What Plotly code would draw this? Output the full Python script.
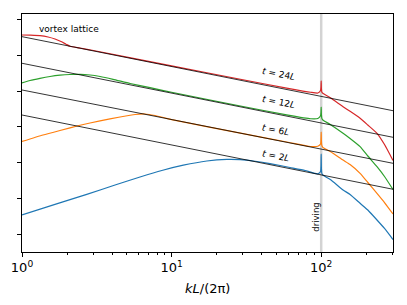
import numpy as np
import plotly.graph_objects as go

# ---------------- data ----------------
k_t2 = [1, 1.662, 2.71, 4.188, 6.15, 8.6, 11.98, 17.2, 23.4, 28.7, 36.2, 45.5, 61.9, 78.1, 95,
        99, 99.7, 100, 100.3, 101, 102.5, 115, 140, 156, 182, 205, 236, 265, 302]
E_t2 = [3.41, 6.75, 12.9, 23.6, 39.5, 60.1, 84.5, 111, 123, 121, 109, 93.8, 72.9, 60.1, 48.5,
        56.2, 79.4, 174, 72.4, 50.1, 45.0, 33.6, 17.1, 12.8, 7.24, 4.70, 2.47, 1.43, 0.70]

k_t6 = [1, 1.382, 1.795, 2.443, 3.325, 4.524, 5.705, 6.643, 7.757, 9.06, 10, 30, 60, 85, 95,
        99, 99.7, 100, 100.3, 101, 102.5, 115, 140, 156, 182, 205, 236, 265, 302]
E_t6 = [390, 593, 793, 1109, 1482, 1893, 2225, 2298, 2085, 1775, 1600, 646, 372, 282, 288,
        331, 447, 719, 417, 302, 268, 205, 118, 88.5, 50.1, 27.7, 13.8, 7.62, 3.63]

k_t12 = [1, 1.131, 1.319, 1.539, 1.795, 2.094, 2.443, 2.85, 3.325, 4.06, 5.28, 7.18, 10, 30, 60, 85, 95,
         99, 99.7, 100, 100.3, 101, 102.5, 115, 140, 156, 182, 205, 236, 265, 302]
E_t12 = [1.698e4, 1.995e4, 2.297e4, 2.581e4, 2.807e4, 2.938e4, 2.973e4, 2.843e4, 2.581e4, 2.153e4,
         1.643e4, 1.254e4, 9.33e3, 3.72e3, 2.14e3, 1.69e3, 1.72e3,
         2.04e3, 2.51e3, 3.61e3, 2.29e3, 1.74e3, 1.56e3, 1.167e3, 662, 473, 279, 153, 76.7, 40.8, 17.6]

k_t24 = [1, 1.131, 1.319, 1.493, 1.662, 1.823, 1.969, 2.094, 2.443, 3, 10, 30, 60, 85, 95,
         99, 99.7, 100, 100.3, 101, 102.5, 115, 140, 156, 182, 205, 236, 265, 302]
E_t24 = [3.75e5, 3.70e5, 3.59e5, 3.30e5, 2.90e5, 2.47e5, 2.07e5, 1.81e5, 1.62e5, 1.38e5, 5.13e4,
         2.09e4, 1.20e4, 9.33e3, 8.91e3,
         1.05e4, 1.32e4, 1.95e4, 1.20e4, 9.33e3, 8.73e3, 6.53e3, 3.68e3, 2.74e3, 1.742e3, 1.13e3,
         662, 321, 115]

# straight power-law reference lines (endpoints)
ref_k = [1, 302]
ref_E = [[3.365e5, 2.84e3],
         [6.05e4, 511],
         [1.081e4, 95.5],
         [2153, 17.9]]

series_names = ["t = 2L", "t = 6L", "t = 12L", "t = 24L"]
label_text = ["<i>t</i> = 2<i>L</i>", "<i>t</i> = 6<i>L</i>",
              "<i>t</i> = 12<i>L</i>", "<i>t</i> = 24<i>L</i>"]
label_k = [49.7, 49.7, 51.8, 51.8]
label_E = [151, 845, 5080, 2.99e4]
colors = ["#1f77b4", "#ff7f0e", "#2ca02c", "#d62728"]

driving_k = 100
x_ticks = [1, 10, 100]
x_ticktext = ["10<sup>0</sup>", "10<sup>1</sup>", "10<sup>2</sup>"]
x_minor = [2, 3, 4, 5, 6, 7, 8, 9, 20, 30, 40, 50, 60, 70, 80, 90, 200, 300]
y_ticks = [1, 10, 100, 1e3, 1e4, 1e5, 1e6]
x_range = [0, np.log10(302)]

# ---------------- figure ----------------
fig = go.Figure()

curves = [(k_t2, E_t2), (k_t6, E_t6), (k_t12, E_t12), (k_t24, E_t24)]
for (kk, ee), c, n in zip(curves, colors, series_names):
    fig.add_trace(go.Scatter(x=kk, y=ee, mode="lines", name=n,
                             line=dict(color=c, width=1.2, shape="spline", smoothing=0.5),
                             showlegend=False))

for re in ref_E:
    fig.add_trace(go.Scatter(x=ref_k, y=re, mode="lines",
                             line=dict(color="black", width=0.8), showlegend=False))

# helper (invisible) trace so the minor-tick overlay axis exists
fig.add_trace(go.Scatter(x=ref_k, y=[1e3, 1e3], xaxis="x2", mode="lines",
                         opacity=0, showlegend=False, hoverinfo="skip"))

fig.add_shape(type="line", xref="x", yref="paper", x0=driving_k, x1=driving_k,
              y0=0, y1=1, line=dict(color="#d3d3d3", width=2.5), layer="below")

font_family = "DejaVu Sans"
annots = []
for t, kx, ey in zip(label_text, label_k, label_E):
    annots.append(dict(x=np.log10(kx), y=np.log10(ey), xref="x", yref="y", text=t,
                       showarrow=False, textangle=11,
                       font=dict(size=9, color="black", family=font_family)))
annots.append(dict(x=np.log10(2.06), y=np.log10(5.7e5), xref="x", yref="y",
                   text="vortex lattice", showarrow=False,
                   font=dict(size=9, color="black", family=font_family)))
annots.append(dict(x=np.log10(driving_k), y=0.147, xref="x", yref="paper",
                   yanchor="middle", xanchor="center",
                   text="driving", showarrow=False, textangle=-90, xshift=-5.5,
                   font=dict(size=8.5, color="black", family=font_family)))
annots.append(dict(x=0.5, y=-0.155, xref="paper", yref="paper", yanchor="middle",
                   text="<i>kL</i>/(2π)", showarrow=False,
                   font=dict(size=13, color="black", family=font_family)))

fig.update_layout(
    width=407, height=305,
    margin=dict(l=22, r=14, t=14, b=53),
    paper_bgcolor="white", plot_bgcolor="white",
    annotations=annots,
    font=dict(family=font_family, color="black"),
    xaxis2=dict(type="log", range=x_range, overlaying="x", anchor="y", side="bottom",
                tickvals=x_minor, showticklabels=False, ticks="outside", ticklen=2,
                tickwidth=0.6, tickcolor="black", showline=False, showgrid=False,
                zeroline=False),
)
fig.layout.xaxis.update(type="log", range=x_range,
                        tickvals=x_ticks, ticktext=x_ticktext,
                        ticks="outside", ticklen=3.5, tickwidth=0.8, tickcolor="black",
                        showline=True, linecolor="black", linewidth=1, mirror=True,
                        showgrid=False, zeroline=False,
                        tickfont=dict(size=13, family=font_family, color="black"))
fig.update_yaxes(type="log", range=[-0.504, 6.162],
                 tickvals=y_ticks, showticklabels=False,
                 ticks="outside", ticklen=4, tickwidth=0.8, tickcolor="black",
                 showline=True, linecolor="black", linewidth=1, mirror=True,
                 showgrid=False, zeroline=False)

fig.write_html("out.html", config={"displayModeBar": False},
               post_script="document.body.style.margin='0px';")
